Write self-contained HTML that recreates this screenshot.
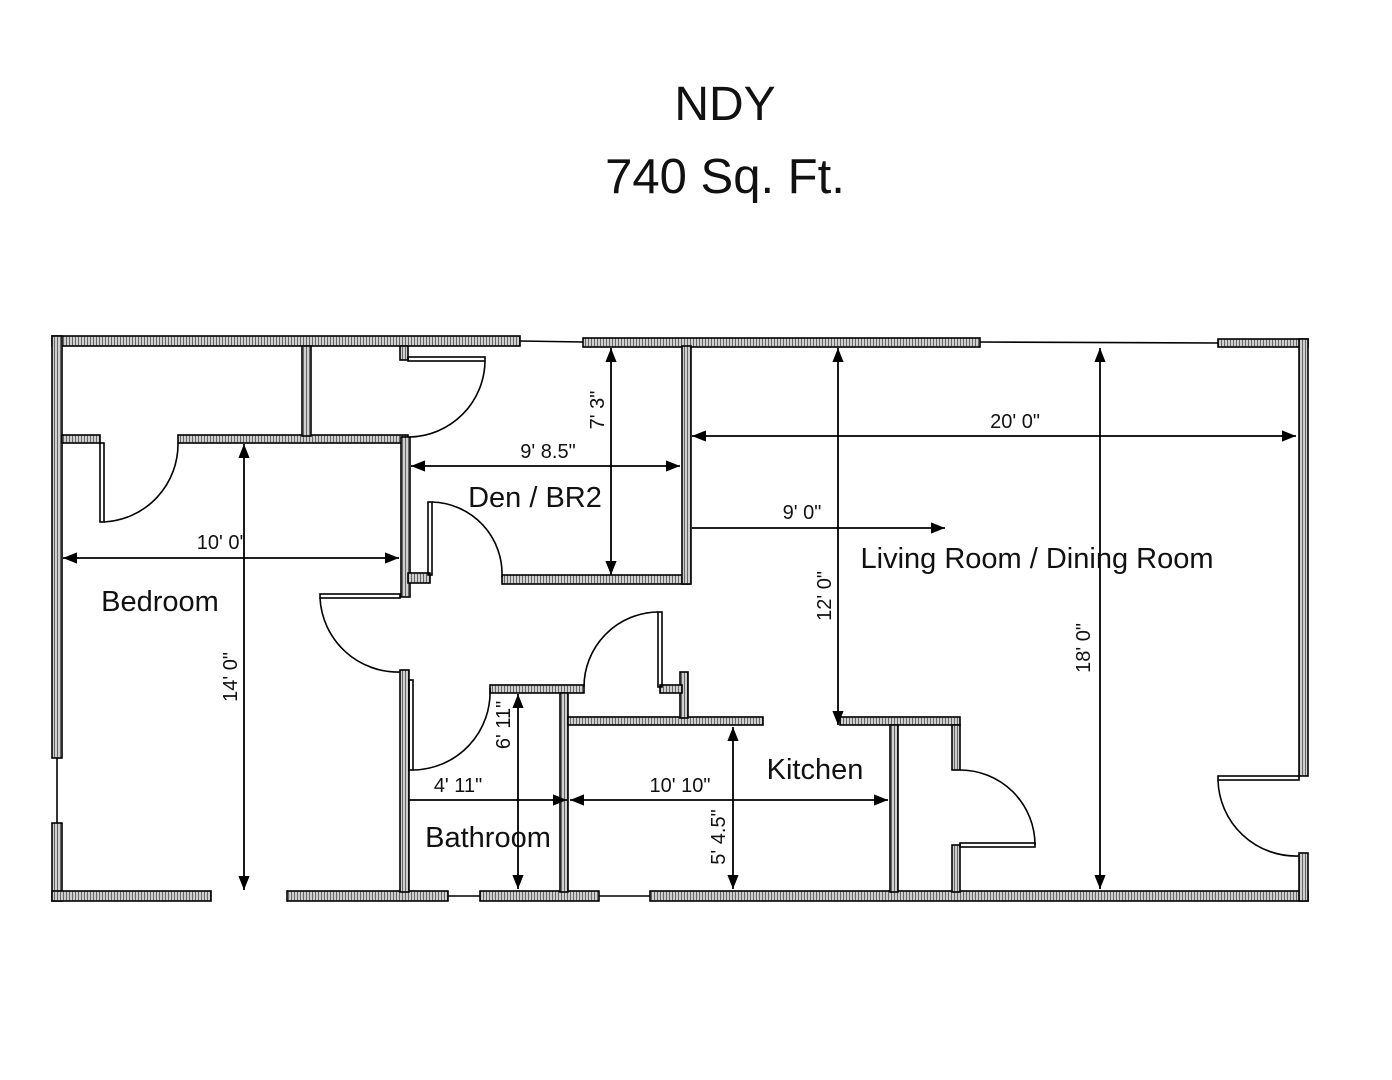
<!DOCTYPE html>
<html><head><meta charset="utf-8"><style>
html,body{margin:0;padding:0;background:#fff}
svg{display:block}
text{font-family:"Liberation Sans",sans-serif;fill:#111}
</style></head><body>
<svg width="1392" height="1080" viewBox="0 0 1392 1080" xmlns="http://www.w3.org/2000/svg">
<defs>
<pattern id="h" width="3" height="3" patternUnits="userSpaceOnUse"><rect width="3" height="3" fill="#cfcfcf"/><rect width="1" height="3" fill="#666"/></pattern>
<marker id="a" viewBox="0 0 10 10" refX="10" refY="5" markerWidth="14" markerHeight="14" markerUnits="userSpaceOnUse" orient="auto-start-reverse"><path d="M0,1 L10,5 L0,9 z" fill="#000"/></marker>
</defs>
<text x="725" y="120" font-size="48" text-anchor="middle">NDY</text>
<text x="725" y="193" font-size="49" text-anchor="middle">740 Sq. Ft.</text>
<g fill="url(#h)" stroke="#000" stroke-width="1.6">
<rect x="52" y="336" width="468" height="10"/>
<rect x="583" y="338" width="397" height="9"/>
<rect x="1218" y="339" width="90" height="8"/>
<rect x="52" y="336" width="10" height="422"/>
<rect x="52" y="823" width="10" height="78"/>
<rect x="52" y="891" width="159" height="10"/>
<rect x="287" y="891" width="161" height="10"/>
<rect x="480" y="891" width="119" height="10"/>
<rect x="650" y="891" width="658" height="10"/>
<rect x="1299" y="339" width="9" height="437"/>
<rect x="1299" y="853" width="9" height="48"/>
<rect x="62" y="435" width="38" height="8"/>
<rect x="178" y="435" width="230" height="8"/>
<rect x="302" y="346" width="9" height="90"/>
<rect x="400" y="346" width="8" height="14"/>
<rect x="401" y="437" width="9" height="160"/>
<rect x="408" y="573" width="22" height="10"/>
<rect x="502" y="575" width="188" height="9"/>
<rect x="682" y="346" width="9" height="238"/>
<rect x="400" y="670" width="9" height="222"/>
<rect x="490" y="685" width="94" height="8"/>
<rect x="560" y="693" width="8" height="199"/>
<rect x="568" y="717" width="195" height="8"/>
<rect x="680" y="672" width="8" height="46"/>
<rect x="660" y="685" width="22" height="8"/>
<rect x="840" y="717" width="120" height="8"/>
<rect x="890" y="725" width="8" height="167"/>
<rect x="952" y="725" width="8" height="45"/>
<rect x="952" y="845" width="8" height="47"/>
</g>
<g fill="none" stroke="#000" stroke-width="1.6">
<line x1="520" y1="341" x2="583" y2="342"/>
<line x1="980" y1="342" x2="1218" y2="343"/>
<line x1="57" y1="758" x2="57" y2="823"/>
<line x1="448" y1="896" x2="480" y2="896"/>
<line x1="599" y1="896" x2="650" y2="896"/>
<rect x="100" y="443" width="4" height="79"/>
<path d="M104,522 A78,78 0 0 0 178,443"/>
<rect x="408" y="357" width="77" height="4"/>
<path d="M485,361 A77,77 0 0 1 410,437"/>
<rect x="428" y="502" width="4" height="73"/>
<path d="M432,502 A72,72 0 0 1 502,577"/>
<rect x="320" y="594" width="80" height="4"/>
<path d="M320,598 A78,78 0 0 0 400,672"/>
<rect x="409" y="680" width="4" height="90"/>
<path d="M413,770 A78,78 0 0 0 490,688"/>
<rect x="658" y="612" width="4" height="75"/>
<path d="M658,612 A75,75 0 0 0 584,687"/>
<rect x="960" y="843" width="75" height="4"/>
<path d="M960,770 A75,75 0 0 1 1035,845"/>
<rect x="1218" y="776" width="81" height="4"/>
<path d="M1218,780 A78,78 0 0 0 1299,856"/>
</g>
<g stroke="#000" stroke-width="1.8" marker-start="url(#a)" marker-end="url(#a)">
<line x1="692" y1="436" x2="1296" y2="436"/>
<line x1="411" y1="466" x2="680" y2="466"/>
<line x1="611" y1="348" x2="611" y2="575"/>
<line x1="63" y1="558" x2="399" y2="558"/>
<line x1="244" y1="444" x2="244" y2="890"/>
<line x1="838" y1="348" x2="838" y2="725"/>
<line x1="1100" y1="348" x2="1100" y2="889"/>
<line x1="518" y1="694" x2="518" y2="889"/>
<line x1="570" y1="800" x2="888" y2="800"/>
<line x1="733" y1="727" x2="733" y2="889"/>
</g>
<g stroke="#000" stroke-width="1.8">
<line x1="692" y1="528" x2="945" y2="528" marker-end="url(#a)"/>
<line x1="409" y1="800" x2="567" y2="800" marker-end="url(#a)"/>
</g>
<g font-size="20">
<text x="1015" y="428" text-anchor="middle">20' 0"</text>
<text x="548" y="458" text-anchor="middle">9' 8.5"</text>
<text x="802" y="519" text-anchor="middle">9' 0"</text>
<text x="220" y="549" text-anchor="middle">10' 0'</text>
<text x="458" y="792" text-anchor="middle">4' 11"</text>
<text x="680" y="792" text-anchor="middle">10' 10"</text>
<text transform="translate(604,410) rotate(-90)" text-anchor="middle">7' 3"</text>
<text transform="translate(237,677) rotate(-90)" text-anchor="middle">14' 0"</text>
<text transform="translate(831,596) rotate(-90)" text-anchor="middle">12' 0"</text>
<text transform="translate(1090,648) rotate(-90)" text-anchor="middle">18' 0"</text>
<text transform="translate(510,725) rotate(-90)" text-anchor="middle">6' 11"</text>
<text transform="translate(725,837) rotate(-90)" text-anchor="middle">5' 4.5"</text>
</g>
<g font-size="29">
<text x="535" y="507" text-anchor="middle">Den / BR2</text>
<text x="1037" y="568" text-anchor="middle">Living Room / Dining Room</text>
<text x="160" y="611" text-anchor="middle">Bedroom</text>
<text x="815" y="779" text-anchor="middle">Kitchen</text>
<text x="488" y="847" text-anchor="middle">Bathroom</text>
</g>
</svg>
</body></html>
